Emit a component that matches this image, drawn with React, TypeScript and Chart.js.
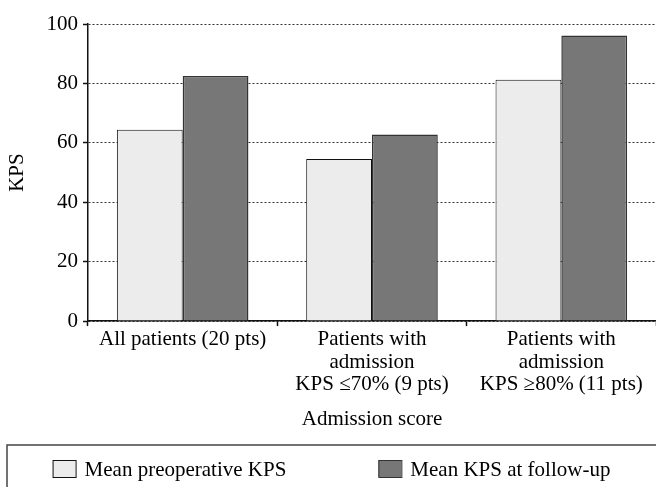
import React, { useEffect, useRef } from "react";
import { Chart, registerables } from "chart.js";

Chart.register(...registerables);

const categories: (string | string[])[] = [
  "All patients (20 pts)",
  ["Patients with", "admission", "KPS ≤70% (9 pts)"],
  ["Patients with", "admission", "KPS ≥80% (11 pts)"],
];
const seriesNames = ["Mean preoperative KPS", "Mean KPS at follow-up"];
const preoperative = [64.4, 54.6, 81.2];
const followUp = [82.5, 62.8, 96.1];
const yTickValues = [0, 20, 40, 60, 80, 100];

const FONT = "'Liberation Serif', 'Times New Roman', serif";
const fills = ["#ececec", "#777777"];
const borders = ["#111111", "#333333"];

const boxLegend = {
  id: "boxLegend",
  afterDraw(chart: any) {
    const ctx = chart.ctx as CanvasRenderingContext2D;
    const W = chart.width;
    const H = chart.height;
    const frameLeft = 7;
    const frameTop = H - 42;
    ctx.save();
    ctx.strokeStyle = "#444";
    ctx.lineWidth = 1.5;
    ctx.strokeRect(frameLeft, frameTop, W + 10, 60);
    ctx.font = `21px ${FONT}`;
    ctx.textBaseline = "middle";
    ctx.fillStyle = "#000";
    const boxW = 23;
    const boxH = 17;
    const gapText = 9;
    const gapItems = 92;
    const items = chart.data.datasets.map((ds: any) => ({
      label: ds.label,
      fill: ds.backgroundColor,
      stroke: ds.borderColor,
      w: boxW + gapText + ctx.measureText(ds.label).width,
    }));
    const total = items.reduce((s: number, it: any) => s + it.w, 0) + gapItems * (items.length - 1);
    let x = frameLeft + (W - frameLeft - total) / 2;
    const by = frameTop + 15;
    items.forEach((it: any) => {
      ctx.fillStyle = it.fill;
      ctx.fillRect(x, by, boxW, boxH);
      ctx.strokeStyle = it.stroke;
      ctx.lineWidth = 1;
      ctx.strokeRect(x + 0.5, by + 0.5, boxW, boxH);
      ctx.fillStyle = "#000";
      ctx.fillText(it.label, x + boxW + gapText, by + boxH / 2 + 1.5);
      x += it.w + gapItems;
    });
    ctx.restore();
  },
};

export default function App() {
  const ref = useRef<HTMLCanvasElement>(null);
  useEffect(() => {
    if (!ref.current) return;
    Chart.defaults.font.family = FONT;
    Chart.defaults.color = "#000";
    const chart = new Chart(ref.current, {
      type: "bar",
      data: {
        labels: categories,
        datasets: [
          {
            label: seriesNames[0],
            data: preoperative,
            backgroundColor: fills[0],
            borderColor: borders[0],
            borderWidth: 1,
            categoryPercentage: 0.695,
            barPercentage: 1,
          },
          {
            label: seriesNames[1],
            data: followUp,
            backgroundColor: fills[1],
            borderColor: borders[1],
            borderWidth: 1.5,
            categoryPercentage: 0.695,
            barPercentage: 1,
          },
        ],
      },
      options: {
        responsive: false,
        animation: false,
        layout: { padding: { top: 24, left: 0, right: 0, bottom: 52.5 } },
        plugins: {
          legend: { display: false },
          tooltip: { enabled: false },
        },
        scales: {
          x: {
            grid: {
              display: true,
              drawOnChartArea: false,
              drawTicks: true,
              tickLength: 5,
              tickColor: "#111",
              tickWidth: 1.5,
              offset: true,
            },
            border: { display: true, color: "#111", width: 1.5 },
            ticks: {
              padding: 2.5,
              maxRotation: 0,
              autoSkip: false,
              font: { size: 21, lineHeight: 1.07 },
              color: "#000",
            },
            title: {
              display: true,
              text: "Admission score",
              font: { size: 21, lineHeight: 1 },
              padding: { top: 10, bottom: 5 },
              color: "#000",
            },
          },
          y: {
            min: 0,
            max: 100,
            afterBuildTicks: (scale: any) => {
              scale.ticks = yTickValues.map((v) => ({ value: v }));
            },
            grid: {
              color: "#333",
              lineWidth: 1,
              drawTicks: true,
              tickLength: 5,
              tickColor: "#111",
              tickWidth: 1.5,
              tickBorderDash: [],
            },
            border: { display: true, color: "#111", width: 1.5, dash: [2, 2] },
            ticks: {
              padding: 5,
              font: { size: 21, lineHeight: 1.07 },
              color: "#000",
            },
            title: {
              display: true,
              text: "KPS",
              font: { size: 21, lineHeight: 1 },
              padding: { top: 6.5, bottom: 14 },
              color: "#000",
            },
          },
        },
      },
      plugins: [boxLegend],
    });
    return () => chart.destroy();
  }, []);
  return (
    <div style={{ position: "absolute", left: 0, top: 0, width: 656, height: 487, background: "#fff" }}>
      <canvas ref={ref} width={656} height={487} />
    </div>
  );
}
